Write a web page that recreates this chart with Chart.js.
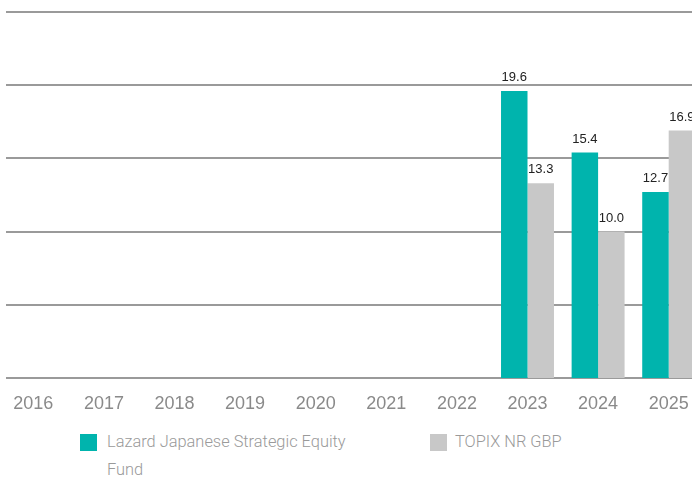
<!DOCTYPE html>
<html>
<head>
<meta charset="utf-8">
<script src="https://cdn.jsdelivr.net/npm/chart.js@4.4.1/dist/chart.umd.min.js"></script>
<style>
  html, body { margin: 0; padding: 0; background: #fff; width: 692px; height: 480px; overflow: hidden; }
  #wrap { position: absolute; left: -2px; top: 0; width: 706px; height: 420px; }
  .leg { position: absolute; top: 428px; font: 300 16.4px Roboto, "Liberation Sans", sans-serif; color: #9a9a9a; line-height: 28px; }
  .leg .box { position: absolute; left: 0; top: 6px; width: 17px; height: 17px; }
  .leg .txt { position: absolute; top: 0; }
</style>
</head>
<body>
<div id="wrap"><canvas id="grafico"></canvas></div>
<div id="legenda"></div>
<script>
// ─── Dados ────────────────────────────────────────────────────────────────────
const ANOS   = ['2016', '2017', '2018', '2019', '2020', '2021', '2022', '2023', '2024', '2025'];
const FUNDO  = [null, null, null, null, null, null, null, 19.6, 15.4, 12.7];
const TOPIX  = [null, null, null, null, null, null, null, 13.3, 10.0, 16.9];
const Y_TICKS = [0, 5, 10, 15, 20, 25];

const COR_FUNDO = '#00b4ad';
const COR_TOPIX = '#c8c8c8';

// ─── Plugins ──────────────────────────────────────────────────────────────────
const linhasGrade = {
  id: 'linhasGrade',
  beforeDatasetsDraw(chart) {
    const { ctx, scales: { y }, width } = chart;
    ctx.save();
    ctx.strokeStyle = '#9a9a9a';
    ctx.lineWidth = 2;
    Y_TICKS.forEach(v => {
      const py = Math.round(y.getPixelForValue(v));
      ctx.beginPath();
      ctx.moveTo(8, py);
      ctx.lineTo(width, py);
      ctx.stroke();
    });
    ctx.restore();
  },
};

const rotulos = {
  id: 'rotulos',
  afterDatasetsDraw(chart) {
    const { ctx } = chart;
    ctx.save();
    ctx.font = '13px "Liberation Sans", Arial, sans-serif';
    ctx.fillStyle = '#222';
    ctx.textAlign = 'center';
    ctx.textBaseline = 'alphabetic';
    chart.data.datasets.forEach((ds, i) => {
      chart.getDatasetMeta(i).data.forEach((bar, j) => {
        const v = ds.data[j];
        if (v == null) return;
        ctx.fillText(v.toFixed(1), bar.x, bar.y - 10);
      });
    });
    ctx.restore();
  },
};

// ─── Gráfico ──────────────────────────────────────────────────────────────────
const grafico = new Chart(document.getElementById('grafico'), {
  type: 'bar',
  data: {
    labels: ANOS,
    datasets: [
      { label: 'Lazard Japanese Strategic Equity Fund', data: FUNDO, backgroundColor: COR_FUNDO },
      { label: 'TOPIX NR GBP', data: TOPIX, backgroundColor: COR_TOPIX },
    ],
  },
  options: {
    responsive: true,
    maintainAspectRatio: false,
    animation: false,
    layout: { padding: { top: 12, left: 0, right: 0, bottom: 0 } },
    datasets: { bar: { categoryPercentage: 0.75, barPercentage: 1.0 } },
    plugins: { legend: { display: false }, tooltip: { enabled: false } },
    scales: {
      x: {
        grid: { display: false, drawTicks: false },
        border: { display: false },
        ticks: { color: '#8a8a8a', font: { family: '"Liberation Sans", Arial, sans-serif', size: 18 }, padding: 15, maxRotation: 0 },
        afterFit: s => { s.height = 42; },
      },
      y: { display: false, min: 0, max: 25 },
    },
  },
  plugins: [linhasGrade, rotulos],
});

// ─── Legenda ──────────────────────────────────────────────────────────────────
const POS_LEGENDA = [80, 430];
document.getElementById('legenda').innerHTML = grafico.data.datasets.map((ds, i) => `
  <div class="leg" style="left:${POS_LEGENDA[i]}px">
    <span class="box" style="background:${ds.backgroundColor}"></span>
    <span class="txt" style="left:${i === 0 ? 27 : 25}px;width:245px">${ds.label}</span>
  </div>`).join('');
</script>
</body>
</html>
